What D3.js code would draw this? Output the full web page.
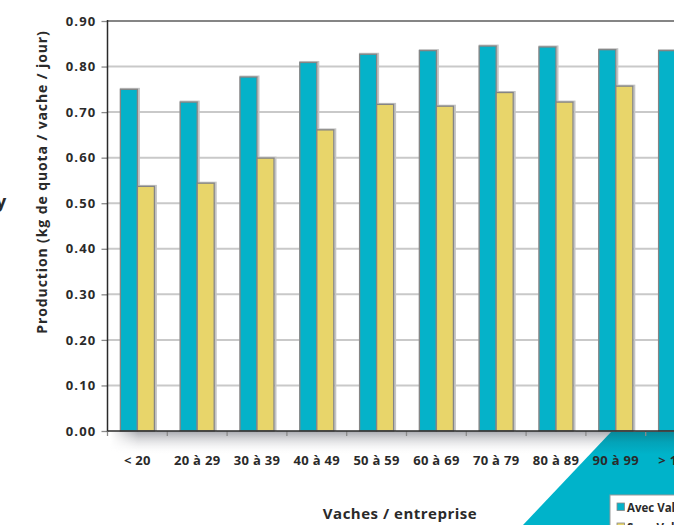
<!DOCTYPE html>
<html>
<head>
<meta charset="utf-8">
<script src="https://cdn.jsdelivr.net/npm/d3@7"></script>
<style>
  html, body { margin: 0; padding: 0; background: #fff; overflow: hidden; }
  svg { display: block; }
  text { font-family: "Open Sans", sans-serif; font-weight: 700; fill: #2a2a2a; }
</style>
</head>
<body>
<svg id="chart" width="674" height="525"></svg>
<script>
const categories = ["< 20", "20 à 29", "30 à 39", "40 à 49", "50 à 59", "60 à 69", "70 à 79", "80 à 89", "90 à 99", "> 100"];
const avecValues = [0.750, 0.722, 0.777, 0.809, 0.827, 0.835, 0.845, 0.843, 0.837, 0.835];
const sansValues = [0.537, 0.544, 0.599, 0.661, 0.717, 0.713, 0.743, 0.722, 0.757, 0.770];
const seriesNames = ["Avec Valacta", "Sans Valacta"];
const seriesColors = ["#05B2C9", "#E8D56A"];
const yTicks = [0, 0.1, 0.2, 0.3, 0.4, 0.5, 0.6, 0.7, 0.8, 0.9];
const yTitle = "Production (kg de quota / vache / jour)";
const xTitle = "Vaches / entreprise";

const svg = d3.select("#chart");
const W = 674, H = 525;
const pLeft = 107.5, pTop = 21, pBottom = 431;
const step = 59.8;
const pRight = pLeft + step * categories.length;

const x = d3.scaleBand().domain(categories).range([pLeft, pRight]).paddingInner(0.431).paddingOuter(0.2155);
const xs = d3.scaleBand().domain(seriesNames).range([0, x.bandwidth()]);
const y = d3.scaleLinear().domain([0, 0.9]).range([pBottom, pTop]);

const defs = svg.append("defs");
const sg = defs.append("linearGradient").attr("id", "shadowV").attr("x1", 0).attr("y1", 0).attr("x2", 0).attr("y2", 1);
sg.append("stop").attr("offset", "0%").attr("stop-color", "#a6a7ad").attr("stop-opacity", 1);
sg.append("stop").attr("offset", "100%").attr("stop-color", "#ffffff").attr("stop-opacity", 0);
const sh = defs.append("linearGradient").attr("id", "shadowH").attr("x1", 0).attr("y1", 0).attr("x2", 1).attr("y2", 0);
sh.append("stop").attr("offset", "0%").attr("stop-color", "#fff").attr("stop-opacity", 0);
sh.append("stop").attr("offset", "5%").attr("stop-color", "#fff").attr("stop-opacity", 1);
sh.append("stop").attr("offset", "100%").attr("stop-color", "#fff").attr("stop-opacity", 1);
const mask = defs.append("mask").attr("id", "shadowMask").attr("maskUnits", "userSpaceOnUse")
  .attr("x", 0).attr("y", 0).attr("width", W).attr("height", H);
mask.append("rect").attr("x", 110).attr("y", pBottom).attr("width", W - 110).attr("height", 24).attr("fill", "url(#shadowH)");
const tg = defs.append("linearGradient").attr("id", "tealV").attr("gradientUnits", "userSpaceOnUse")
  .attr("x1", 0).attr("y1", pBottom).attr("x2", 0).attr("y2", H);
tg.append("stop").attr("offset", "0%").attr("stop-color", "#0a8797");
tg.append("stop").attr("offset", "12%").attr("stop-color", "#03a3b8");
tg.append("stop").attr("offset", "25%").attr("stop-color", "#00b3ca");
tg.append("stop").attr("offset", "100%").attr("stop-color", "#00b3ca");

// shadow under the x axis
svg.append("rect").attr("x", 110).attr("y", pBottom).attr("width", W - 110).attr("height", 24)
  .attr("fill", "url(#shadowV)").attr("mask", "url(#shadowMask)");

// teal decorative triangle
svg.append("polygon")
  .attr("points", [[611, pBottom + 1], [W, pBottom + 1], [W, H], [523, H]].map(p => p.join(",")).join(" "))
  .attr("fill", "url(#tealV)");

// gridlines
svg.append("g").selectAll("line").data(yTicks.filter(t => t > 0 && t < 0.9)).join("line")
  .attr("x1", pLeft).attr("x2", W).attr("y1", d => y(d)).attr("y2", d => y(d))
  .attr("stroke", "#c9c9c9").attr("stroke-width", 2);
svg.append("line").attr("x1", pLeft).attr("x2", W).attr("y1", y(0.9)).attr("y2", y(0.9))
  .attr("stroke", "#858585").attr("stroke-width", 2);

// bars
const data = categories.map((c, i) => ({ c, vals: [avecValues[i], sansValues[i]] }));
const groups = svg.append("g").selectAll("g").data(data).join("g")
  .attr("transform", d => `translate(${x(d.c)},0)`);
groups.selectAll("rect.halo").data(d => d.vals.map((v, k) => ({ v, k }))).join("rect")
  .attr("class", "halo")
  .attr("x", d => xs(seriesNames[d.k]) + 0.5).attr("y", d => y(d.v) - 0.5)
  .attr("width", xs.bandwidth() + 1).attr("height", d => y(0) - y(d.v) + 0.5)
  .attr("fill", "none").attr("stroke", "#c4c4c4").attr("stroke-width", 2);
groups.selectAll("rect.bar").data(d => d.vals.map((v, k) => ({ v, k }))).join("rect")
  .attr("class", "bar")
  .attr("x", d => xs(seriesNames[d.k])).attr("y", d => y(d.v))
  .attr("width", xs.bandwidth()).attr("height", d => y(0) - y(d.v))
  .attr("fill", d => seriesColors[d.k]).attr("stroke", "#858585").attr("stroke-width", 1.3);

// y axis
const yAxis = d3.axisLeft(y).tickValues(yTicks).tickFormat(d3.format(".2f")).tickSize(6).tickPadding(5);
const ya = svg.append("g").attr("transform", `translate(${pLeft},0)`).call(yAxis);
ya.select(".domain").remove();
ya.selectAll(".tick line").attr("stroke", "#8a8a8a").attr("stroke-width", 1.3);
ya.selectAll(".tick text").attr("font-size", 13).attr("font-family", "Open Sans").attr("font-weight", 700)
  .attr("fill", "#2a2a2a").attr("letter-spacing", "1.2px");
svg.append("line").attr("x1", pLeft).attr("x2", pLeft).attr("y1", pTop - 1).attr("y2", pBottom + 1)
  .attr("stroke", "#2a2a2a").attr("stroke-width", 1.5);

// x axis
const xAxis = d3.axisBottom(x).tickSize(0).tickPadding(25);
const xa = svg.append("g").attr("transform", `translate(0,${pBottom})`).call(xAxis);
xa.select(".domain").remove();
xa.selectAll(".tick text").attr("font-size", 13).attr("font-family", "Open Sans").attr("font-weight", 700)
  .attr("fill", "#2a2a2a").attr("letter-spacing", "0.3px");
svg.append("g").selectAll("line").data(d3.range(categories.length + 1)).join("line")
  .attr("x1", i => pLeft + i * x.step()).attr("x2", i => pLeft + i * x.step())
  .attr("y1", pBottom).attr("y2", pBottom + 5).attr("stroke", "#8a8a8a").attr("stroke-width", 1.3);
svg.append("line").attr("x1", pLeft).attr("x2", W).attr("y1", pBottom).attr("y2", pBottom)
  .attr("stroke", "#2a2a2a").attr("stroke-width", 1.5);

// titles
svg.append("text").attr("transform", `translate(47,182) rotate(-90)`).attr("text-anchor", "middle")
  .attr("font-size", 14).attr("letter-spacing", "0.9px").text(yTitle);
svg.append("text").attr("x", 400).attr("y", 519).attr("text-anchor", "middle")
  .attr("font-size", 15).attr("letter-spacing", "0.5px").text(xTitle);

// legend
const lg = svg.append("g").attr("transform", "translate(610,495)");
lg.append("rect").attr("x", 0).attr("y", 0).attr("width", 96).attr("height", 50)
  .attr("fill", "#fff").attr("stroke", "#9a9a9a").attr("stroke-width", 1);
seriesNames.forEach((n, k) => {
  lg.append("rect").attr("x", 7).attr("y", 8 + k * 20).attr("width", 7.5).attr("height", 7.5)
    .attr("fill", seriesColors[k]).attr("stroke", "#888").attr("stroke-width", 0.8);
  lg.append("text").attr("x", 17).attr("y", 16.5 + k * 20).attr("font-size", 11.5).text(n);
});

// stray glyph at the left edge
svg.append("text").attr("x", -4).attr("y", 208).attr("font-size", 18).attr("fill", "#333").text("y");
</script>
</body>
</html>
